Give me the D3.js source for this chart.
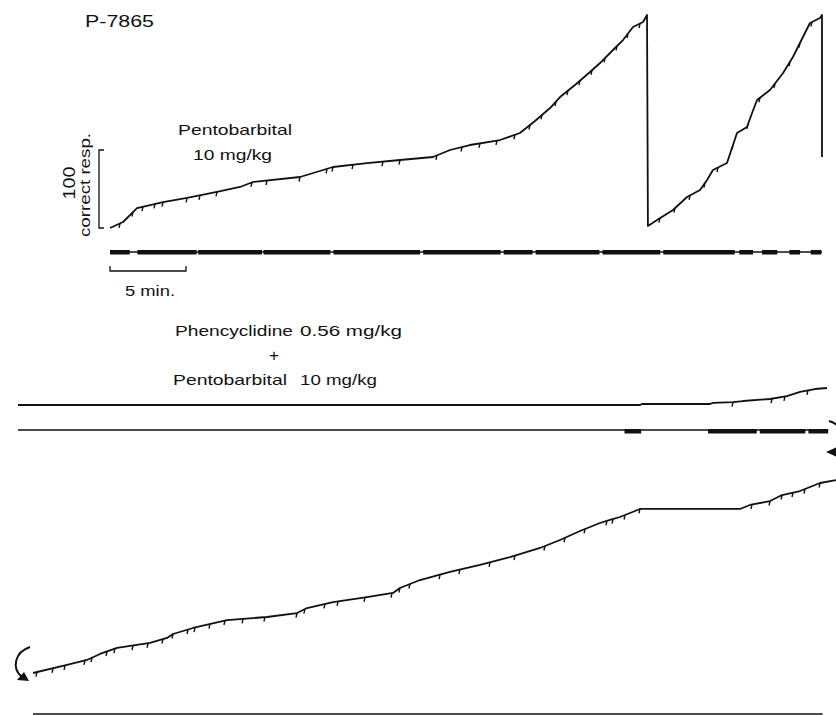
<!DOCTYPE html>
<html>
<head>
<meta charset="utf-8">
<script src="https://cdn.jsdelivr.net/npm/d3@7"></script>
<style>
  body { margin: 0; background: #fff; }
  text { font-family: "Liberation Sans", Arial, sans-serif; fill: #111; }
</style>
</head>
<body>
<div id="chart"></div>
<script>
// Cumulative records, [minutes, cumulative correct responses]
// Top: pentobarbital 10 mg/kg (pen resets included)
const topRecord = [
  [0, 0], [0.86, 7.7], [1.51, 20.5], [1.78, 25.6], [3.49, 33.3], [5.07, 38.5],
  [7.04, 46.2], [8.55, 52.6], [9.41, 59.0], [12.5, 65.4], [14.67, 78.2],
  [16.91, 83.3], [19.08, 87.2], [21.25, 91.0], [22.37, 100], [23.68, 106.4],
  [25.66, 112.8], [26.97, 121.8], [27.96, 137.2], [28.95, 153.8], [29.61, 167.9],
  [30.59, 183.3], [31.58, 200], [32.24, 211.5], [33.09, 228.2], [33.75, 241],
  [34.41, 257.7], [35.07, 264.1], [35.33, 273.1],
  [35.39, 2.6], [35.99, 10.3], [37.04, 23.1], [37.96, 39.7], [38.82, 48.7],
  [39.28, 61.5], [39.67, 74.4], [40.59, 83.3], [40.92, 102.6], [41.25, 121.8],
  [41.91, 129.5], [42.24, 147.4], [42.57, 164.1], [43.42, 176.9], [44.28, 198.7],
  [44.93, 219.2], [45.59, 244.9], [46.05, 262.8], [46.71, 269.2], [46.84, 273],
  [46.84, 91]
];
const topTicks = [0.66, 1.51, 2.17, 2.96, 3.49, 5.07, 5.92, 7.04, 9.34, 10.33, 12.5,
  14.28, 14.67, 15.99, 17.96, 19.08, 21.51, 23.16, 24.34, 25.46, 26.64, 27.63,
  28.42, 29.34, 30.13, 30.92, 31.71, 32.57, 33.36, 34.08, 34.87,
  36.18, 37.17, 38.16, 39.14, 40.0, 40.99, 41.97, 42.76, 43.75, 44.74, 45.39, 46.18];
const topEvents = [[0, 1.3], [1.8, 5.7], [5.8, 10.0], [10.1, 14.5], [14.7, 20.4],
  [20.6, 25.7], [25.9, 27.8], [28.0, 32.2], [32.4, 36.2], [36.4, 41.1],
  [41.4, 42.3], [42.9, 43.9], [44.7, 45.4], [46.1, 46.8]];
const topEnd = 46.84;

// Middle: phencyclidine 0.56 mg/kg + pentobarbital 10 mg/kg
const midRecord = [
  [0, 0], [40.92, 0], [41.05, 1.3], [45.53, 1.3], [45.72, 2.6], [47.04, 3.8],
  [47.7, 5.1], [49.47, 7.7], [50.59, 11.5], [51.45, 16.7], [52.43, 20.5], [53.22, 21.8]
];
const midTicks = [47.04, 49.61, 50.46, 51.97];
const midEvents = [[39.9, 41.0], [45.4, 48.6], [48.8, 51.8], [52.0, 53.3]];
const midEnd = 53.3;

// Bottom: continuation of the middle record
const lowRecord = [
  [0, 0], [2.24, 10.3], [3.55, 16.7], [4.41, 24.4], [5.53, 32.1], [7.7, 38.5],
  [8.82, 44.9], [9.21, 50], [10.53, 57.7], [12.76, 67.9], [15.39, 71.8],
  [17.37, 76.9], [18.03, 83.3], [19.74, 91], [21.97, 97.4], [23.68, 102.6],
  [24.14, 109], [25.46, 119.2], [27.43, 129.5], [29.41, 138.5], [31.38, 148.7],
  [33.36, 160.3], [34.67, 170.5], [35.99, 182.1], [37.3, 192.3], [37.96, 196.2],
  [38.62, 200], [39.28, 205.1], [39.93, 210.3], [46.51, 210.3], [47.17, 215.4],
  [48.49, 220.5], [49.28, 228.2], [50.46, 233.3], [51.78, 243.6], [52.83, 247.4]
];
const lowTicks = [0.26, 1.32, 2.11, 3.42, 3.88, 4.87, 5.39, 6.58, 7.57, 8.55, 9.21,
  10.2, 10.66, 11.64, 12.63, 13.82, 15.26, 17.37, 17.89, 19.21, 20.07, 21.84,
  23.62, 24.14, 24.8, 26.78, 28.09, 30.07, 31.71, 33.68, 35.0, 36.32, 37.76,
  38.16, 38.95, 39.93, 47.3, 48.49, 49.28, 50.0, 50.79, 51.78];
const lowEnd = 51.95;

const width = 836;
const height = 716;

const svg = d3.select('#chart').append('svg')
  .attr('width', width)
  .attr('height', height);

// scales: 5 min bar = 76 px, 100 responses = 78 px
const xTop = d3.scaleLinear().domain([0, 5]).range([110, 186]);
const xMid = d3.scaleLinear().domain([0, 5]).range([18, 94]);
const xLow = d3.scaleLinear().domain([0, 5]).range([33, 109]);
const yTop = d3.scaleLinear().domain([0, 100]).range([228, 150]);
const yMid = d3.scaleLinear().domain([0, 100]).range([405, 327]);
const yLow = d3.scaleLinear().domain([0, 100]).range([673, 595]);

function valueAt(rec, t) {
  for (let i = 0; i < rec.length - 1; i++) {
    const a = rec[i], b = rec[i + 1];
    if (t >= a[0] && t <= b[0] && b[0] > a[0]) {
      return a[1] + (b[1] - a[1]) * (t - a[0]) / (b[0] - a[0]);
    }
  }
  return rec[rec.length - 1][1];
}

function drawRecord(rec, ticks, x, y) {
  const line = d3.line().x(d => x(d[0])).y(d => y(d[1]));
  svg.append('path')
    .attr('d', line(rec))
    .attr('fill', 'none')
    .attr('stroke', '#111')
    .attr('stroke-width', 1.8)
    .attr('stroke-linejoin', 'round');

  // reinforcement marks
  svg.selectAll(null)
    .data(ticks)
    .enter().append('line')
    .attr('x1', d => x(d))
    .attr('y1', d => y(valueAt(rec, d)))
    .attr('x2', d => x(d) - 1)
    .attr('y2', d => y(valueAt(rec, d)) + 4.5)
    .attr('stroke', '#111')
    .attr('stroke-width', 1.4);
}

function drawEvents(events, end, x, yLine, thick) {
  svg.append('line')
    .attr('x1', x(0)).attr('x2', x(end))
    .attr('y1', yLine).attr('y2', yLine)
    .attr('stroke', '#111')
    .attr('stroke-width', 1.4);
  svg.selectAll(null)
    .data(events)
    .enter().append('rect')
    .attr('x', d => x(d[0]))
    .attr('width', d => x(d[1]) - x(d[0]))
    .attr('y', yLine - thick[0])
    .attr('height', thick[1])
    .attr('fill', '#111');
}

drawRecord(topRecord, topTicks, xTop, yTop);
drawEvents(topEvents, topEnd, xTop, 252, [2, 4.5]);

drawRecord(midRecord, midTicks, xMid, yMid);
drawEvents(midEvents, midEnd, xMid, 430, [1, 4.5]);

drawRecord(lowRecord, lowTicks, xLow, yLow);
drawEvents([], lowEnd, xLow, 714, [0, 0]);

// scale bars
svg.append('path')
  .attr('d', `M${xTop(0)},266V271H${xTop(5)}V266`)
  .attr('fill', 'none').attr('stroke', '#111').attr('stroke-width', 1.3);
svg.append('path')
  .attr('d', `M104,${yTop(100)}H99V${yTop(0)}H104`)
  .attr('fill', 'none').attr('stroke', '#111').attr('stroke-width', 1.3);

// continuation arrows
svg.append('path')
  .attr('d', 'M829,421 C846,425 846,448 834,452')
  .attr('fill', 'none').attr('stroke', '#111').attr('stroke-width', 2);
svg.append('path')
  .attr('d', 'M826,452 L837,447 L837,457 Z')
  .attr('fill', '#111');
svg.append('path')
  .attr('d', 'M30,647 C15,652 11,668 22,677')
  .attr('fill', 'none').attr('stroke', '#111').attr('stroke-width', 2);
svg.append('path')
  .attr('d', 'M29,681 L17,680 L24,672 Z')
  .attr('fill', '#111');

// labels
function label(txt, x, y, size, len, anchor, rotate) {
  const t = svg.append('text')
    .attr('x', x).attr('y', y)
    .attr('font-size', size)
    .attr('text-anchor', anchor || 'start')
    .attr('textLength', len)
    .attr('lengthAdjust', 'spacingAndGlyphs')
    .text(txt);
  if (rotate) t.attr('transform', `rotate(-90,${x},${y})`);
}

label('P-7865', 85, 27, 16, 69);
label('Pentobarbital', 178, 135, 15, 114);
label('10 mg/kg', 193, 160, 15, 79);
label('5 min.', 125, 296, 15, 50);
label('100', 75, 183, 17, 33, 'middle', true);
label('correct resp.', 90, 185, 14, 104, 'middle', true);
label('Phencyclidine', 175, 336, 15, 118);
label('0.56 mg/kg', 300, 336, 15, 102);
label('+', 274, 361, 17, 10, 'middle');
label('Pentobarbital', 173, 385, 15, 114);
label('10 mg/kg', 300, 385, 15, 77);
</script>
</body>
</html>
